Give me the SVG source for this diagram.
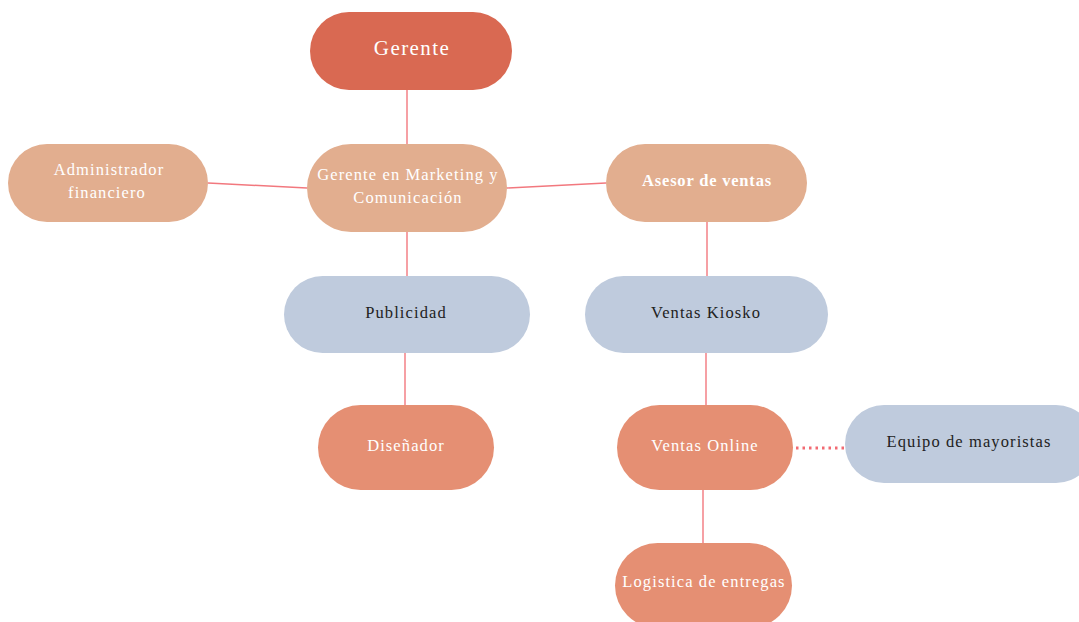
<svg xmlns="http://www.w3.org/2000/svg" width="1079" height="622" viewBox="0 0 1079 622">
<style>
.n1{fill:#D96952}
.n2{fill:#E2AE8F}
.n3{fill:#BFCBDD}
.n4{fill:#E58F73}
text{font-family:"Liberation Serif","Times New Roman",serif;font-size:16.5px;letter-spacing:1.1px;text-anchor:middle}
.w{fill:#FFFFFF}
.d{fill:#222222}
.b{font-weight:bold;letter-spacing:0.8px}
.c line{stroke:#F2787E;stroke-width:1.4}
.c line.dot{stroke:#F26A72;stroke-dasharray:2.5 4;stroke-width:3}
</style>
<rect width="1079" height="622" fill="#FFFFFF"/>
<g class="c" id="connectors">
<line x1="407" y1="90" x2="407" y2="144"/>
<line x1="208" y1="183" x2="307" y2="188"/>
<line x1="507" y1="188" x2="606" y2="183"/>
<line x1="407" y1="232" x2="407" y2="276"/>
<line x1="405" y1="353" x2="405" y2="405"/>
<line x1="707" y1="222" x2="707" y2="276"/>
<line x1="706" y1="353" x2="706" y2="405"/>
<line x1="703" y1="490" x2="703" y2="543"/>
<line class="dot" x1="796" y1="448" x2="844" y2="448"/>
</g>
<g id="gerente"><rect class="n1" x="310" y="12" width="202" height="78" rx="39"/><text class="w" x="412" y="55" style="font-size:21px;letter-spacing:1.4px">Gerente</text></g>
<g id="admin"><rect class="n2" x="8" y="144" width="200" height="78" rx="39"/><text class="w" x="109" y="175">Administrador</text><text class="w" x="107" y="198">financiero</text></g>
<g id="gm"><rect class="n2" x="307" y="144" width="200" height="88" rx="44"/><text class="w" x="408" y="180">Gerente en Marketing y</text><text class="w" x="408" y="203">Comunicación</text></g>
<g id="asesor"><rect class="n2" x="606" y="144" width="201" height="78" rx="39"/><text class="w b" x="707" y="186">Asesor de ventas</text></g>
<g id="publicidad"><rect class="n3" x="284" y="276" width="246" height="77" rx="38.5"/><text class="d" x="406" y="318">Publicidad</text></g>
<g id="kiosko"><rect class="n3" x="585" y="276" width="243" height="77" rx="38.5"/><text class="d" x="706" y="318">Ventas Kiosko</text></g>
<g id="disenador"><rect class="n4" x="318" y="405" width="176" height="85" rx="42.5"/><text class="w" x="406" y="451">Diseñador</text></g>
<g id="online"><rect class="n4" x="617" y="405" width="176" height="85" rx="42.5"/><text class="w" x="705" y="451">Ventas Online</text></g>
<g id="equipo"><rect class="n3" x="845" y="405" width="250" height="78" rx="39"/><text class="d" x="969" y="447">Equipo de mayoristas</text></g>
<g id="logistica"><rect class="n4" x="615" y="543" width="177" height="85" rx="42.5"/><text class="w" x="704" y="587">Logistica de entregas</text></g>
</svg>
